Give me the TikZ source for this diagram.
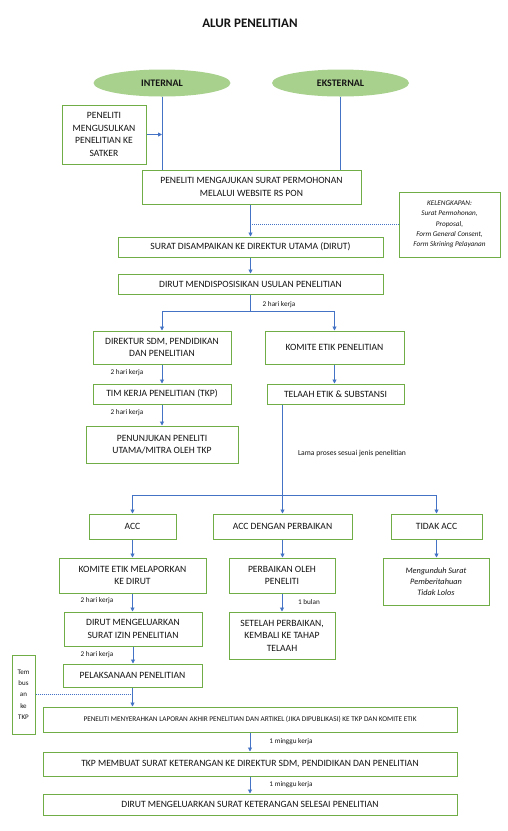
\documentclass[tikz,border=0pt]{standalone}
\usepackage{fontspec}
\setmainfont{Carlito}
\usetikzlibrary{arrows.meta,shapes.geometric}
\definecolor{bgreen}{HTML}{70AD47}
\definecolor{lgreen}{HTML}{A9D18E}
\definecolor{lblue}{HTML}{4472C4}
\definecolor{tcol}{HTML}{141414}
\tikzset{
  box/.style={draw=bgreen, line width=1pt, fill=white, inner sep=1pt, align=center, text=tcol,
    font=\fontsize{9.6}{12.5}\selectfont},
  ovalbox/.style={ellipse, fill=lgreen, draw=none, inner sep=0pt, text=tcol,
    font=\fontsize{10}{12}\selectfont\bfseries},
  conn/.style={draw=lblue, line width=0.9pt},
  arr/.style={conn, -{Triangle[length=4pt,width=4pt]}},
  dotline/.style={draw=lblue, line width=0.9pt, dash pattern=on 1pt off 1pt},
  lbl/.style={font=\fontsize{7.2}{8}\selectfont, text=tcol, inner sep=0pt},
}
\begin{document}
\begin{tikzpicture}[x=1pt,y=-1pt]
\useasboundingbox (0,0) rectangle (508,831);
\fill[white] (0,0) rectangle (508,831);

\node[font=\fontsize{13}{15}\selectfont\bfseries, text=tcol] (title) at (250,23) {ALUR PENELITIAN};

\node[ovalbox, minimum width=137pt, minimum height=27pt] (int) at (162,83) {INTERNAL};
\node[ovalbox, minimum width=137pt, minimum height=27pt] (eks) at (340.5,83) {EKSTERNAL};

\node[box, minimum width=84pt, minimum height=59pt] (usul) at (104,134.5) {PENELITI\\MENGUSULKAN\\PENELITIAN KE\\SATKER};
\node[box, minimum width=219pt, minimum height=34pt] (ajukan) at (251.5,187) {PENELITI MENGAJUKAN SURAT PERMOHONAN\\MELALUI WEBSITE RS PON};
\node[box, minimum width=101pt, minimum height=65pt, font=\fontsize{7.2}{10.3}\selectfont\itshape] (leng) at (449.5,224.5) {KELENGKAPAN:\\Surat Permohonan,\\Proposal,\\Form General Consent,\\Form Skrining Pelayanan};
\node[box, minimum width=265pt, minimum height=20pt] (surat) at (250.5,247) {SURAT DISAMPAIKAN KE DIREKTUR UTAMA (DIRUT)};
\node[box, minimum width=265pt, minimum height=20pt] (dispo) at (250.5,284) {DIRUT MENDISPOSISIKAN USULAN PENELITIAN};

\node[box, minimum width=138pt, minimum height=33pt] (dirsdm) at (162,347.5) {DIREKTUR SDM, PENDIDIKAN\\DAN PENELITIAN};
\node[box, minimum width=139pt, minimum height=33pt] (komite) at (334.5,347.5) {KOMITE ETIK PENELITIAN};
\node[box, minimum width=138pt, minimum height=20pt] (tim) at (162,394) {TIM KERJA PENELITIAN (TKP)};
\node[box, minimum width=137pt, minimum height=20pt] (telaah) at (335.5,394) {TELAAH ETIK \& SUBSTANSI};
\node[box, minimum width=152pt, minimum height=37pt] (tunjuk) at (162,444.5) {PENUNJUKAN PENELITI\\UTAMA/MITRA OLEH TKP};

\node[box, minimum width=87pt, minimum height=25pt] (acc) at (132.5,526.5) {ACC};
\node[box, minimum width=139pt, minimum height=25pt] (accp) at (282.5,526.5) {ACC DENGAN PERBAIKAN};
\node[box, minimum width=91pt, minimum height=25pt] (tidak) at (436.5,526.5) {TIDAK ACC};

\node[box, minimum width=147pt, minimum height=35pt] (lapor) at (132.5,575.5) {KOMITE ETIK MELAPORKAN\\KE DIRUT};
\node[box, minimum width=106pt, minimum height=35pt] (perb) at (282,575.5) {PERBAIKAN OLEH\\PENELITI};
\node[box, minimum width=106pt, minimum height=47pt, font=\fontsize{8.3}{11.3}\selectfont\itshape] (unduh) at (436,581.5) {Mengunduh Surat\\Pemberitahuan\\Tidak Lolos};

\node[box, minimum width=138pt, minimum height=34pt] (izin) at (133,629) {DIRUT MENGELUARKAN\\SURAT IZIN PENELITIAN};
\node[box, minimum width=106pt, minimum height=47pt] (setelah) at (282,635.5) {SETELAH PERBAIKAN,\\KEMBALI KE TAHAP\\TELAAH};
\node[box, minimum width=139pt, minimum height=23pt] (laksana) at (132.5,675.5) {PELAKSANAAN PENELITIAN};

\node[box, minimum width=23pt, minimum height=79pt, font=\fontsize{7}{11.3}\selectfont] (tembus) at (23.5,694.5) {Tem\\bus\\an\\ke\\TKP};

\node[box, minimum width=414pt, minimum height=25pt, font=\fontsize{7.25}{8}\selectfont] (serah) at (250,719.5) {PENELITI MENYERAHKAN LAPORAN AKHIR PENELITIAN DAN ARTIKEL (JIKA DIPUBLIKASI) KE TKP DAN KOMITE ETIK};
\node[box, minimum width=414pt, minimum height=24pt] (tkp) at (250,764) {TKP MEMBUAT SURAT KETERANGAN KE DIREKTUR SDM, PENDIDIKAN DAN PENELITIAN};
\node[box, minimum width=414pt, minimum height=21pt] (selesai) at (250,804.5) {DIRUT MENGELUARKAN SURAT KETERANGAN SELESAI PENELITIAN};

% connectors
\draw[conn] (int.south) -- (int.south |- ajukan.north);
\draw[conn] (eks.south) -- (eks.south |- ajukan.north);
\draw[arr] (usul.east) -- (usul.east -| int.south);
\draw[arr] (surat.north |- ajukan.south) -- (surat.north);
\draw[dotline] (leng.west) -- (leng.west -| surat.north);
\draw[arr] (surat.south) -- (dispo.north);

\coordinate (s1) at (250.5,311);
\draw[conn] (dispo.south) -- (s1);
\draw[arr] (s1) -| (dirsdm.north);
\draw[arr] (s1) -| (komite.north);
\node[lbl] (l1) at (279,305) {2 hari kerja};

\draw[arr] (dirsdm.south) -- (tim.north);
\node[lbl] (l2) at (127,373) {2 hari kerja};
\draw[arr] (komite.south) -- (komite.south |- telaah.north);
\draw[arr] (tim.south) -- (tunjuk.north);
\node[lbl] (l3) at (127,413) {2 hari kerja};

\coordinate (s2) at (282.5,495);
\draw[conn] (telaah.south -| s2) -- (s2);
\node[lbl, font=\fontsize{7.6}{8}\selectfont] (l4) at (352,454) {Lama proses sesuai jenis penelitian};
\draw[arr] (s2) -| (acc.north);
\draw[arr] (s2) -- (accp.north);
\draw[arr] (s2) -| (tidak.north);

\draw[arr] (acc.south) -- (lapor.north);
\draw[arr] (accp.south) -- (accp.south |- perb.north);
\draw[arr] (tidak.south) -- (tidak.south |- unduh.north);

\draw[arr] (lapor.south) -- (lapor.south |- izin.north);
\node[lbl] (l5) at (97,601) {2 hari kerja};
\draw[arr] (perb.south) -- (setelah.north);
\node[lbl] (l6) at (309,602) {1 bulan};
\draw[arr] (izin.south) -- (izin.south |- laksana.north);
\node[lbl] (l7) at (97,655) {2 hari kerja};

\draw[arr] (laksana.south) -- (laksana.south |- serah.north);
\draw[dotline] (tembus.east) -- (tembus.east -| laksana.south);

\draw[arr] (serah.south) -- (tkp.north);
\node[lbl] (l8) at (291,742) {1 minggu kerja};
\draw[arr] (tkp.south) -- (selesai.north);
\node[lbl] (l9) at (291,785) {1 minggu kerja};
\end{tikzpicture}
\end{document}
